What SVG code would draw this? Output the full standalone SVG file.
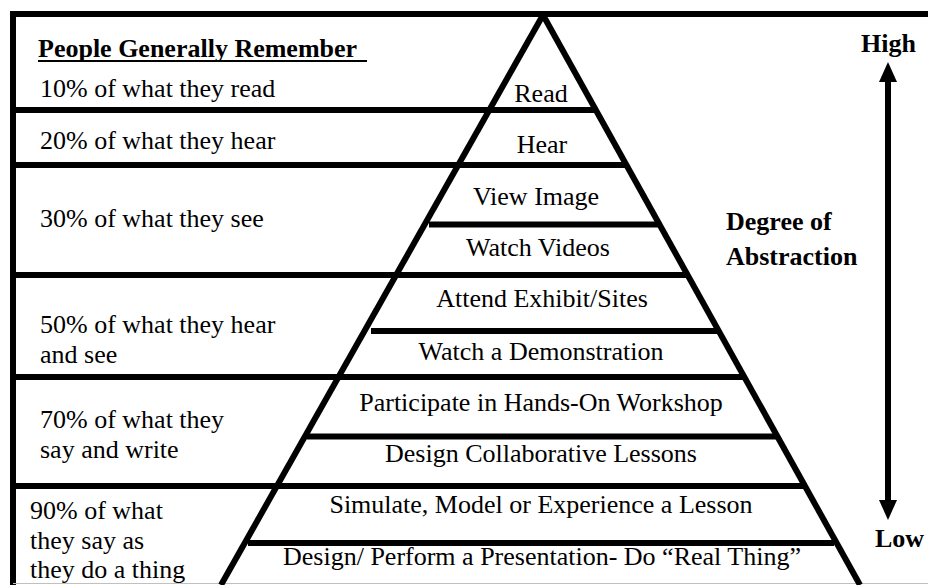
<svg xmlns="http://www.w3.org/2000/svg" width="928" height="585" viewBox="0 0 928 585">
<defs>
<marker id="ah" viewBox="0 0 20 18" refX="2" refY="9" markerWidth="20" markerHeight="18" markerUnits="userSpaceOnUse" orient="auto-start-reverse">
<path d="M0,0 L20,9 L0,18 Z" fill="#000"/>
</marker>
</defs>
<rect width="928" height="585" fill="#fff"/>
<g id="connectors" stroke="#000" stroke-width="6" fill="none">
<line x1="10" y1="14" x2="928" y2="14"/>
<line x1="13" y1="11" x2="13" y2="585"/>
<line x1="13" y1="583.5" x2="928" y2="583.5" stroke="#c0c0c0" stroke-width="1"/>
<line x1="13" y1="110" x2="597" y2="110"/>
<line x1="13" y1="165" x2="628" y2="165"/>
<line x1="429" y1="224.5" x2="661" y2="224.5"/>
<line x1="13" y1="275" x2="687" y2="275"/>
<line x1="371" y1="331" x2="718" y2="331"/>
<line x1="13" y1="377" x2="745" y2="377"/>
<line x1="307" y1="436.5" x2="778" y2="436.5"/>
<line x1="13" y1="486" x2="807" y2="486"/>
<line x1="248" y1="543" x2="834" y2="543"/>
<line x1="543" y1="15" x2="221" y2="585"/>
<line x1="543" y1="15" x2="860" y2="585"/>
<line x1="888" y1="80" x2="888" y2="502" marker-start="url(#ah)" marker-end="url(#ah)"/>
</g>
<g id="header">
<text x="38" y="57" font-family="Liberation Serif" font-size="26" font-weight="bold">People Generally Remember</text>
<line x1="38" y1="61" x2="367" y2="61" stroke="#000" stroke-width="2"/>
</g>
<g id="row-read" font-size="26">
<text x="40" y="97" font-family="Liberation Serif">10% of what they read</text>
<text x="541" y="102" font-family="Liberation Serif" text-anchor="middle">Read</text>
</g>
<g id="row-hear" font-size="26">
<text x="40" y="149" font-family="Liberation Serif">20% of what they hear</text>
<text x="542" y="153" font-family="Liberation Serif" text-anchor="middle">Hear</text>
</g>
<g id="row-see" font-size="26">
<text x="40" y="227" font-family="Liberation Serif">30% of what they see</text>
<text x="536" y="205" font-family="Liberation Serif" text-anchor="middle">View Image</text>
<text x="538" y="256" font-family="Liberation Serif" text-anchor="middle">Watch Videos</text>
</g>
<g id="row-hear-see" font-size="26">
<text x="40" y="333" font-family="Liberation Serif">50% of what they hear</text>
<text x="40" y="363" font-family="Liberation Serif">and see</text>
<text x="542" y="307" font-family="Liberation Serif" text-anchor="middle">Attend Exhibit/Sites</text>
<text x="541" y="360" font-family="Liberation Serif" text-anchor="middle">Watch a Demonstration</text>
</g>
<g id="row-say-write" font-size="26">
<text x="40" y="428" font-family="Liberation Serif">70% of what they</text>
<text x="40" y="458" font-family="Liberation Serif">say and write</text>
<text x="541" y="411" font-family="Liberation Serif" text-anchor="middle">Participate in Hands-On Workshop</text>
<text x="541" y="462" font-family="Liberation Serif" text-anchor="middle">Design Collaborative Lessons</text>
</g>
<g id="row-do" font-size="26">
<text x="30" y="519" font-family="Liberation Serif">90% of what</text>
<text x="30" y="549" font-family="Liberation Serif">they say as</text>
<text x="30" y="578" font-family="Liberation Serif">they do a thing</text>
<text x="541" y="513" font-family="Liberation Serif" text-anchor="middle">Simulate, Model or Experience a Lesson</text>
<text x="542" y="565" font-family="Liberation Serif" text-anchor="middle">Design/ Perform a Presentation- Do &#8220;Real Thing&#8221;</text>
</g>
<g id="axis-labels" font-size="26" font-weight="bold">
<text x="861" y="52" font-family="Liberation Serif">High</text>
<text x="726" y="230" font-family="Liberation Serif">Degree of</text>
<text x="726" y="265" font-family="Liberation Serif">Abstraction</text>
<text x="875" y="547" font-family="Liberation Serif">Low</text>
</g>
</svg>
